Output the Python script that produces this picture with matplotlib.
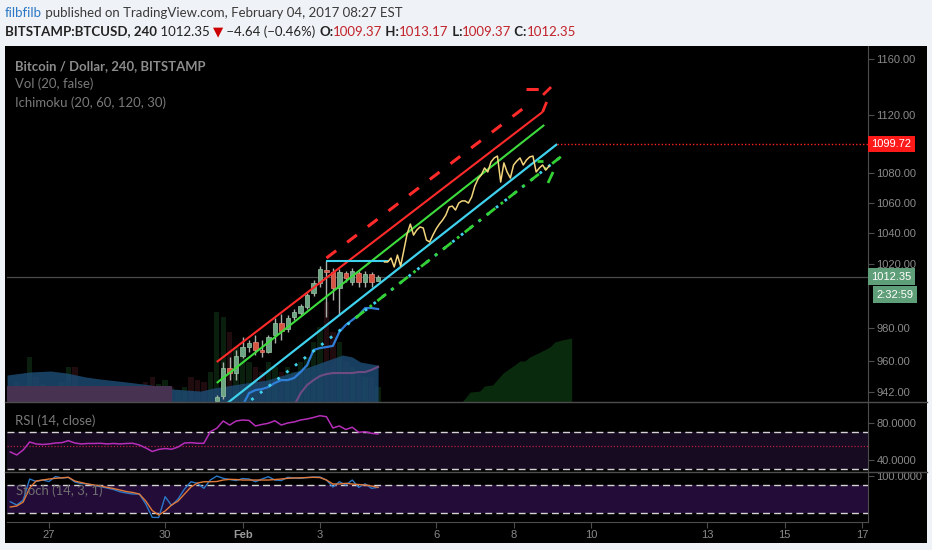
import matplotlib
matplotlib.use("Agg")
import matplotlib.pyplot as plt
import matplotlib.dates as mdates
from matplotlib.ticker import FixedLocator, NullLocator, FuncFormatter
from matplotlib.patches import Rectangle
from matplotlib.lines import Line2D
from matplotlib.font_manager import FontProperties
import pandas as pd
import numpy as np

# ---------------- header / labels ----------------
author = "filbfilb"
published = " published on TradingView.com, February 04, 2017 08:27 EST"
symbol = "BITSTAMP:BTCUSD, 240"
last_price = 1012.35
change = -4.64
change_pct = -0.46
ohlc_labels = ["O:", "H:", "L:", "C:"]
ohlc_values = [1009.37, 1013.17, 1009.37, 1012.35]
legend_lines = ["Bitcoin / Dollar, 240, BITSTAMP", "Vol (20, false)", "Ichimoku (20, 60, 120, 30)"]
rsi_title = "RSI (14, close)"
stoch_title = "Stoch (14, 3, 1)"
countdown = "2:32:59"
alert_level = 1099.72

# ---------------- 4h bars (Jan 26 00:00 .. Feb 4 12:00) ----------------
bar_start = "2017-01-26 00:00"
rsi = [48.6, 45.4, 50.7, 59.3, 57.2, 56.6, 57.2, 58.2, 58.6, 60.7,
       58.2, 57.2, 57.7, 57.7, 57.9, 57.2, 57.7, 57.2, 57.7, 57.9,
       56.1, 52.9, 49.1, 51.3, 52.3, 51.5, 53.9, 58.2, 58.6, 57.9,
       57.9, 70.3, 74.0, 81.8, 77.5, 81.8, 82.9, 82.4, 76.5, 78.1,
       79.4, 82.1, 77.5, 79.7, 80.8, 82.9, 84.0, 85.6, 87.5, 86.4,
       74.3, 76.5, 72.7, 75.1, 69.7, 70.3, 68.6, 67.9]
stoch_k = [43.8, 36.7, 47.5, 93.0, 87.6, 90.8, 87.6, 98.4, 95.2, 96.7,
           86.5, 83.2, 82.2, 78.9, 76.3, 73.5, 70.3, 65.5, 62.7, 60.5,
           60.5, 38.8, 10.0, 9.6, 54.7, 35.6, 49.7, 71.3, 87.1, 83.7,
           72.9, 90.8, 99.5, 94.5, 91.9, 89.7, 94.1, 93.0, 87.1, 93.0,
           98.0, 90.8, 89.7, 96.7, 95.2, 94.5, 96.2, 97.3, 97.3, 90.8,
           75.7, 87.1, 80.0, 90.8, 75.0, 82.6, 72.9, 75.0]
stoch_d = [32.4, 34.5, 43.2, 73.5, 88.7, 90.8, 93.0, 94.5, 95.6, 96.7,
           88.7, 85.4, 82.2, 80.0, 77.8, 75.0, 72.4, 69.2, 65.9, 63.8,
           60.5, 45.3, 24.8, 15.0, 23.7, 36.7, 45.3, 60.5, 75.7, 84.3,
           87.1, 87.1, 87.6, 90.8, 92.3, 91.9, 90.8, 90.8, 90.8, 90.8,
           90.8, 91.9, 93.0, 94.5, 95.2, 95.6, 96.2, 96.7, 96.2, 90.8,
           82.2, 82.2, 83.7, 82.2, 81.1, 80.0, 77.8, 75.0]
volume = [1500, 2000, 1200, 4500, 2500, 1800, 1500, 1200, 2000, 3500,
          3500, 1500, 1000, 1200, 1000, 800, 1200, 1000, 800, 1500,
          1200, 2000, 2500, 1800, 2200, 1500, 1200, 1500, 2500, 2200,
          2000, 3000, 9000, 8500, 7000, 5500, 4500, 4000, 3500, 3000,
          4000, 3500, 3000, 3500, 3000, 4000, 4500, 6000, 7500, 10000,
          7000, 6000, 4000, 3500, 3000, 2500, 2500, 1500]
vol_up_early = [1, 0, 1, 1, 0, 1, 0, 1, 1, 1, 0, 0, 1, 0, 1, 0, 1, 0, 1, 1,
                0, 0, 0, 1, 1, 0, 1, 1, 0, 0, 0, 1]

# ---------------- visible candles (from Jan 31 08:00) ----------------
candle_offset = 32
opens = [936.6, 939.5, 956.1, 953.1, 963.3, 968.7, 971.8, 966.9, 966.0, 976.0,
         983.4, 979.7, 987.0, 989.5, 993.2, 1001.9, 1008.3, 1016.5, 1015.2, 1005.1,
         1014.6, 1008.9, 1014.6, 1008.9, 1013.9, 1009.37]
highs = [940.0, 959.7, 962.7, 966.9, 974.8, 973.0, 976.0, 973.0, 976.0, 986.5,
         988.9, 988.0, 992.0, 995.0, 1002.0, 1010.0, 1019.0, 1022.2, 1017.8, 1017.0,
         1016.0, 1017.5, 1016.0, 1016.0, 1015.0, 1013.17]
lows = [935.0, 938.0, 948.9, 948.9, 962.0, 966.0, 963.9, 962.7, 965.0, 971.0,
        973.0, 978.0, 985.0, 988.0, 992.0, 1000.0, 1006.0, 987.0, 997.6, 988.2,
        1009.0, 1007.0, 1006.0, 1006.0, 1006.0, 1009.37]
closes = [939.0, 956.1, 953.1, 963.3, 968.7, 971.1, 966.9, 966.0, 974.8, 983.4,
          978.5, 986.5, 990.1, 993.8, 1000.7, 1008.3, 1017.2, 1015.2, 1005.1, 1015.2,
          1011.4, 1015.9, 1008.9, 1013.9, 1008.9, 1012.35]

# Ichimoku-style lines
tenkan_offset = 36
tenkan = [934.0, 941.2, 943.0, 943.6, 944.8, 947.2, 948.9, 948.9, 950.2, 953.7, 957.8,
          966.9, 968.1, 968.7, 969.4, 977.9, 982.2, 985.2, 988.2, 992.6, 992.6, 992.0]
kijun_offset = 44
kijun = [934.0, 941.2, 946.0, 948.9, 951.3, 952.5, 953.1, 953.1, 953.1, 953.1,
         953.7, 953.7, 955.0, 956.8]

cloud_dates = ["2017-01-25 22:00", "2017-01-26 12:00", "2017-01-27 01:00", "2017-01-27 11:00",
               "2017-01-27 23:00", "2017-01-28 08:00", "2017-01-29 00:00", "2017-01-29 15:00",
               "2017-01-30 05:00", "2017-01-30 22:00", "2017-01-31 06:00", "2017-01-31 18:00",
               "2017-02-01 06:00", "2017-02-01 15:00", "2017-02-02 12:00", "2017-02-03 00:00",
               "2017-02-03 14:00", "2017-02-03 20:00", "2017-02-04 01:00", "2017-02-04 12:00"]
cloud_top = [951.9, 953.7, 954.3, 953.1, 950.7, 949.5, 947.8, 946.0, 943.6, 942.4,
             944.2, 946.0, 947.8, 948.9, 954.9, 959.1, 963.9, 962.7, 959.7, 957.8]
span_dates = ["2017-01-25 20:00", "2017-01-30 04:00"]
span_top = [945.4, 945.4]
future_dates = ["2017-02-06 16:00", "2017-02-06 21:00", "2017-02-07 03:00", "2017-02-07 06:00",
                "2017-02-07 11:00", "2017-02-07 17:30", "2017-02-07 22:00", "2017-02-08 04:00",
                "2017-02-08 07:00", "2017-02-08 10:00", "2017-02-08 16:30", "2017-02-08 22:30",
                "2017-02-09 01:30", "2017-02-09 06:00", "2017-02-09 12:00"]
future_top = [936.0, 941.8, 942.4, 945.4, 946.0, 953.1, 956.1, 960.3, 960.3, 962.7,
              965.7, 968.7, 971.7, 973.0, 974.2]

# projected path drawing (2h steps from Feb 4 16:00)
path_start = "2017-02-04 16:00"
path = [1021.6, 1021.6, 1024.1, 1018.4, 1026.0, 1019.0, 1029.2, 1039.6, 1046.1, 1038.9,
        1042.2, 1044.2, 1043.5, 1035.7, 1034.4, 1038.9, 1042.9, 1046.1, 1048.7, 1052.0,
        1057.3, 1057.9, 1055.3, 1059.9, 1061.3, 1061.3, 1059.9, 1063.9, 1071.3, 1076.0,
        1078.7, 1083.4, 1080.7, 1087.5, 1090.2, 1091.5, 1073.9, 1086.8, 1080.7, 1076.6,
        1085.4, 1088.1, 1090.2, 1085.4, 1088.8, 1090.9, 1091.5, 1080.7, 1083.4, 1085.4,
        1082.0, 1084.7]

# trend line drawings (time, price endpoints)
red_solid = (["2017-01-31 08:00", "2017-02-08 18:00"], [959.7, 1122.0])
red_dash = (["2017-02-03 04:00", "2017-02-08 12:00"], [1024.1, 1129.7])
red_cap = (["2017-02-08 08:00", "2017-02-08 16:00"], [1138.2, 1138.2])
red_tick1 = (["2017-02-08 18:00", "2017-02-08 20:30"], [1122.0, 1129.0])
red_tick2 = (["2017-02-08 18:15", "2017-02-08 23:15"], [1134.0, 1139.6])
green_solid = (["2017-01-31 08:00", "2017-02-08 19:00"], [947.2, 1112.9])
cyan_solid = (["2017-01-31 08:00", "2017-02-09 03:00"], [930.5, 1099.7])
cyan_dot = (["2017-02-01 00:00", "2017-02-09 06:40"], [933.2, 1092.2])
green_dashdot = (["2017-02-03 22:00", "2017-02-09 06:40"], [986.4, 1092.2])
cyan_flat = (["2017-02-03 04:00", "2017-02-04 19:00"], [1022.2, 1022.2])
green_mark1 = (["2017-02-08 14:30", "2017-02-08 18:15"], [1088.1, 1088.1])
green_mark2 = (["2017-02-08 21:20", "2017-02-09 00:30"], [1073.3, 1080.7])
alert_start = "2017-02-09 03:00"

# axes
price_ticks = [942, 960, 980, 1020, 1040, 1060, 1080, 1120, 1160]
rsi_ticks = [80, 40]
rsi_bands = [30, 70]
rsi_mid = 55.3
stoch_ticks = [100]
stoch_bands = [20, 80]
time_ticks = ["2017-01-27", "2017-01-30", "2017-02-01", "2017-02-03", "2017-02-06",
              "2017-02-08", "2017-02-10", "2017-02-13", "2017-02-15", "2017-02-17"]
time_labels = ["27", "30", "Feb", "3", "6", "8", "10", "13", "15", "17"]
x_range = ["2017-01-25 21:58", "2017-02-17 03:43"]

# ---------------- style ----------------
W, H = 932, 550
PAGE = "#eff2f6"
GRAY = "#8a8a8a"
LINEC = "#4d4d4d"
UP, DN = "#6ba583", "#d75442"
HFONT = ["Lato", "DejaVu Sans"]
AFONT = ["Liberation Sans", "DejaVu Sans"]


def d2n(s):
    return mdates.date2num(pd.to_datetime(s))


def fy(px):
    return 1 - px / H


fig = plt.figure(figsize=(W / 100, H / 100), dpi=100)
fig.patch.set_facecolor(PAGE)
fig.add_artist(Rectangle((5 / W, fy(543)), 922 / W, (543 - 46) / H,
                         transform=fig.transFigure, fc="black", ec="none", zorder=-10))

L, R = 7 / W, 868 / W
AW = R - L
ax_vol = fig.add_axes([L, fy(402), AW, (402 - 46) / H])
ax = fig.add_axes([L, fy(402), AW, (402 - 46) / H], sharex=ax_vol)
ax_rsi = fig.add_axes([L, fy(472), AW, 70 / H], sharex=ax_vol)
ax_st = fig.add_axes([L, fy(522), AW, 50 / H], sharex=ax_vol)
ax_vol.set_zorder(1)
ax.set_zorder(2)
for a in (ax_vol, ax, ax_rsi, ax_st):
    a.set_facecolor("none")
    for s in ("top", "left", "bottom"):
        a.spines[s].set_visible(False)
    a.spines["right"].set_color(LINEC)
ax_vol.spines["right"].set_visible(False)
ax_st.spines["bottom"].set_visible(True)
ax_st.spines["bottom"].set_color(LINEC)

xb = mdates.date2num(pd.date_range(bar_start, periods=len(rsi), freq="4h"))
xc = xb[candle_offset:candle_offset + len(opens)]
xl, xr = d2n(x_range[0]), d2n(x_range[1])

# volume
vol_up = list(vol_up_early) + [c >= o for o, c in zip(opens, closes)]
ax_vol.bar(xb, volume, width=0.14, color=["#0a1f0d" if u else "#200c0e" for u in vol_up], lw=0)
ax_vol.set_ylim(0, 35600)
ax_vol.axis("off")

# main panel
ax.set_yscale("log")
ax.set_xlim(xl, xr)
ax.set_ylim(936.0, 1169.2)

ax.fill_between(d2n(cloud_dates), cloud_top, 900, color="#1c4a70", alpha=0.85, lw=0, zorder=2)
ax.fill_between(d2n(span_dates), span_top, 900, color="#473252", lw=0, zorder=2.5)
ax.fill_between(d2n(future_dates), future_top, 900, color="#0a2a0e", lw=0, zorder=2)

ax.plot(xb[kijun_offset:kijun_offset + len(kijun)], kijun, color="#6e4c82", lw=1.5, zorder=3)
ax.plot(xb[tenkan_offset:tenkan_offset + len(tenkan)], tenkan, color="#2f7fd8", lw=1.6, zorder=3)

ax.axhline(last_price, color="#4a4a4a", lw=0.9, zorder=2.6)

for x, o, h, l, c in zip(xc, opens, highs, lows, closes):
    up = c >= o
    ax.vlines(x, l, h, color="#a9b0a9", lw=1, zorder=5)
    lo, hi = min(o, c), max(o, c)
    if hi - lo < 0.7:
        hi = lo + 0.7
    ax.bar(x, hi - lo, bottom=lo, width=0.115, color=UP if up else DN,
           edgecolor="#9fc8a8" if up else "#e88a80", lw=0.5, zorder=6)


def seg(item, **kw):
    t, p = item
    ax.plot(d2n(t), p, solid_capstyle="butt", dash_capstyle="butt", **kw)


seg(red_solid, color="#ff2a2a", lw=1.5, zorder=7)
seg(red_dash, color="#ff2a2a", lw=2.2, ls=(0, (4, 4.5)), zorder=7)
seg(red_cap, color="#ff2a2a", lw=2.2, ls=(0, (4, 4.5)), zorder=7)
seg(red_tick1, color="#ff2a2a", lw=2.0, zorder=7)
seg(red_tick2, color="#ff2a2a", lw=2.0, zorder=7)
seg(green_solid, color="#3ddc3d", lw=1.5, zorder=7)
seg(cyan_solid, color="#3fd2ee", lw=1.6, zorder=7)
seg(cyan_dot, color="#3fd2ee", lw=2.0, ls=(0, (1, 3)), zorder=7)
seg(green_dashdot, color="#33d133", lw=2.0, ls=(0, (4, 2.5, 1, 2.5)), zorder=7)
seg(cyan_flat, color="#3fd2ee", lw=1.5, zorder=7)
seg(green_mark1, color="#33d133", lw=2.0, zorder=7)
seg(green_mark2, color="#33d133", lw=2.0, zorder=7)
ax.plot(mdates.date2num(pd.date_range(path_start, periods=len(path), freq="2h")), path,
        color="#f2d47c", lw=1.1, zorder=8)
ax.hlines(alert_level, d2n(alert_start), xr, color="#ff2020", lw=1.0, ls=(0, (1, 1.5)), zorder=7)

ax.yaxis.tick_right()
ax.yaxis.set_major_locator(FixedLocator(price_ticks))
ax.yaxis.set_minor_locator(NullLocator())
ax.yaxis.set_major_formatter(FuncFormatter(lambda v, p: f"{v:.2f}"))
ax.yaxis.set_minor_formatter(FuncFormatter(lambda v, p: ""))
for a in (ax, ax_rsi, ax_st):
    a.tick_params(axis="y", which="both", right=True, left=False, labelright=True, labelleft=False,
                  colors=LINEC, labelcolor=GRAY, length=4, width=0.8, pad=2, labelsize=8)
    for lab in a.get_yticklabels():
        lab.set_family(AFONT)
    a.tick_params(axis="x", which="both", bottom=False, labelbottom=False)

tr = ax.get_yaxis_transform()
box = dict(boxstyle="square,pad=0.28", ec="none")
ax.text(1.004, last_price, f"{last_price:.2f}", transform=tr, ha="left", va="center",
        color="white", fontsize=8, family=AFONT, bbox=dict(box, fc="#5e9e78"), clip_on=False, zorder=20)
ax.annotate(countdown, xy=(1.0314, last_price), xycoords=tr, xytext=(0, -13), textcoords="offset points",
            ha="center", va="center", color="white", fontsize=8, family=AFONT,
            bbox=dict(boxstyle="square,pad=0.28", ec="none", fc="#5e9e78"), annotation_clip=False, zorder=20)
ax.text(1.004, alert_level, f"{alert_level:.2f}", transform=tr, ha="left", va="center",
        color="white", fontsize=8, family=AFONT, bbox=dict(box, fc="#ff1a1a"), clip_on=False, zorder=20)

# RSI panel
ax_rsi.set_ylim(27.1, 102.2)
ax_rsi.axhspan(rsi_bands[0], rsi_bands[1], color="#170b22", lw=0, zorder=0)
for b in rsi_bands:
    ax_rsi.axhline(b, color="#d4d4d4", lw=1.0, ls=(0, (5, 3)), zorder=2)
ax_rsi.axhline(rsi_mid, color="#b3203c", lw=0.9, ls=(0, (1, 1.5)), zorder=2)
ax_rsi.plot(xb, rsi, color="#b52eb8", lw=1.1, zorder=3)
ax_rsi.yaxis.set_major_locator(FixedLocator(rsi_ticks))
ax_rsi.yaxis.set_major_formatter(FuncFormatter(lambda v, p: f"{v:.4f}"))

# Stoch panel
ax_st.set_ylim(-0.1, 108.2)
ax_st.axhspan(stoch_bands[0], stoch_bands[1], color="#230c38", lw=0, zorder=0)
for b in stoch_bands:
    ax_st.axhline(b, color="#d4d4d4", lw=1.0, ls=(0, (5, 3)), zorder=2)
ax_st.plot(xb, stoch_k, color="#2b78c8", lw=1.0, zorder=3)
ax_st.plot(xb, stoch_d, color="#e0793a", lw=1.0, zorder=3)
ax_st.yaxis.set_major_locator(FixedLocator(stoch_ticks))
ax_st.yaxis.set_major_formatter(FuncFormatter(lambda v, p: f"{v:.4f}"))
ax_st.tick_params(axis="y", labelsize=8)

# time axis
ax_st.set_xticks(d2n(time_ticks))
ax_st.set_xticklabels(time_labels)
ax_st.tick_params(axis="x", bottom=True, labelbottom=True, colors=LINEC, labelcolor=GRAY,
                  length=4, width=0.8, pad=2, labelsize=8)
for lab in ax_st.get_xticklabels():
    lab.set_family(AFONT)
    if lab.get_text() == "Feb":
        lab.set_fontweight("bold")
        lab.set_color("#9a9a9a")
ax_st.set_xlim(xl, xr)

# pane separators across the price scale
for ypx in (402, 472):
    fig.add_artist(Line2D([5 / W, 927 / W], [fy(ypx)] * 2, color=LINEC, lw=1.0, zorder=5))

# ---------------- texts ----------------
renderer = fig.canvas.get_renderer()


def text_w(s, size, weight, family):
    fp = FontProperties(family=family, size=size, weight=weight)
    w1, _, _ = renderer.get_text_width_height_descent("|" + s + "|", fp, ismath=False)
    w0, _, _ = renderer.get_text_width_height_descent("||", fp, ismath=False)
    return w1 - w0


def runs(items, x_px, base_px, size, target=None, family=HFONT):
    if target:
        tot = sum(text_w(s, size, w, family) for s, c, w in items)
        size = size * target / tot
    x = x_px
    for s, c, w in items:
        fig.text(x / W, fy(base_px), s, color=c, fontweight=w, fontsize=size, family=family,
                 ha="left", va="baseline")
        x += text_w(s, size, w, family)
    return size


RED = "#c2232b"
DARK = "#222222"
runs([(author, "#2a78c6", "normal"), (published, "#3a3a3a", "normal")], 5, 17, 10, target=400)
line2 = [(symbol, DARK, "bold"), (f" {last_price:.2f} ", DARK, "normal"), ("\u25bc", "#cc0000", "normal"),
         (f" \u2212{abs(change):.2f} (\u2212{abs(change_pct):.2f}%) ", DARK, "normal")]
for i, (lb, v) in enumerate(zip(ohlc_labels, ohlc_values)):
    line2.append(((" " if i else "") + lb, DARK, "bold"))
    line2.append((f"{v:.2f}", RED, "normal"))
runs(line2, 5, 35.5, 10, target=568)

lsize = runs([(legend_lines[2], "#7a7a7a", "normal")], 15, 107, 10, target=151)
runs([(legend_lines[0], "#8c8c8c", "bold")], 15, 70, lsize)
runs([(legend_lines[1], "#7a7a7a", "normal")], 15, 88, lsize)
runs([(rsi_title, "#7a7a7a", "normal")], 15, 425, lsize)
runs([(stoch_title, "#6e6e6e", "normal")], 16, 495, lsize)

fig.savefig("out.png", dpi=100, facecolor=PAGE)
